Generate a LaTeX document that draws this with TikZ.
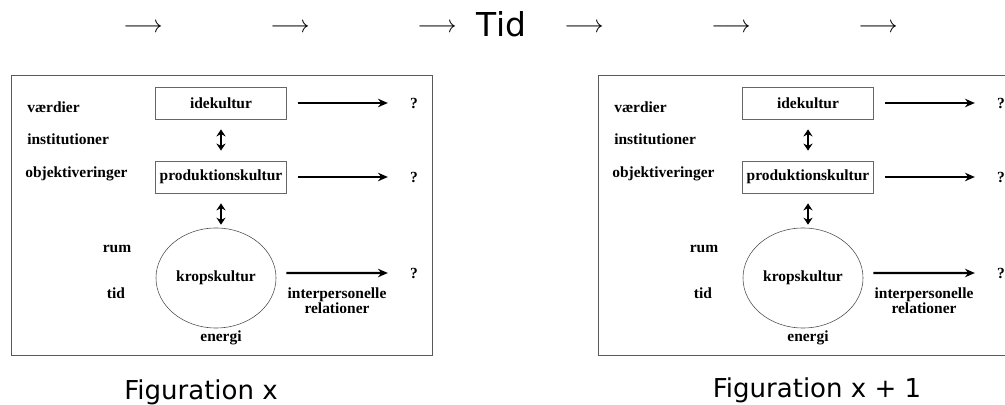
\documentclass[tikz,border=0pt]{standalone}
\usepackage{fontspec}
\setmainfont{Liberation Serif}
\newfontfamily\capfont{DejaVu Sans}
\usetikzlibrary{arrows.meta}
\usetikzlibrary{shapes.geometric}

\begin{document}
\begin{tikzpicture}[x=0.025cm, y=-0.025cm,
  lbl/.style={font=\fontsize{11}{10.5}\selectfont\bfseries, inner sep=0pt},
  kbox/.style={draw=black!60, line width=0.5pt, minimum width=3.275cm, minimum height=0.8cm, inner sep=0pt, lbl},
  pil/.style={line width=1.6pt, -{Stealth[length=7pt,width=6pt]}},
  dpil/.style={line width=1.6pt, {Stealth[length=5pt,width=6.5pt]}-{Stealth[length=5pt,width=6.5pt]}},
  figtekst/.style={font=\capfont\fontsize{18.5}{20}\selectfont}]
\clip (0,0) rectangle (1005,405);

\foreach \k in {0,...,5}
  \node[font=\fontsize{19}{20}\selectfont] (pil\k) at (143+147*\k,28) {$\longrightarrow$};
\node[font=\capfont\fontsize{23.4}{26}\selectfont, anchor=base] (tid) at (501.5,37) {Tid};

\foreach \dx/\f in {0/a,587/b}{
\begin{scope}[shift={(\dx,0)}]
  \node[draw=black!65, minimum width=10.525cm, minimum height=7cm] (ramme\f) at (221.5,215) {};
  \node[kbox] (ide\f) at (221,103) {idekultur};
  \node[kbox] (prod\f) at (221,177) {produktionskultur};
  \node[draw=black!70, ellipse, minimum width=3cm, minimum height=2.5cm, lbl] (krop\f) at (216,278) {kropskultur};

  \node[lbl, anchor=west] (vaerdi\f) at (27,107) {værdier};
  \node[lbl, anchor=west] (inst\f) at (27,139) {institutioner};
  \node[lbl, anchor=west] (objekt\f) at (25,174) {objektiveringer};
  \node[lbl] (rum\f) at (117,249) {rum};
  \node[lbl] (tid\f) at (116,293) {tid};
  \node[lbl] (energi\f) at (221,338) {energi};
  \node[lbl, align=center] (inter\f) at (337,301) {interpersonelle\\relationer};

  \node[lbl] (qa\f) at (414,103) {?};
  \node[lbl] (qb\f) at (414,177) {?};
  \node[lbl] (qc\f) at (414,273) {?};

  \draw[dpil] ([yshift=-0.25cm]ide\f.south) -- ([yshift=0.25cm]ide\f.south |- prod\f.north);
  \draw[dpil] ([yshift=-0.25cm]prod\f.south) -- ([yshift=0.075cm]prod\f.south |- krop\f.north);
  \draw[pil] ([xshift=0.275cm]ide\f.east) -- ([xshift=-0.55cm]qa\f.west);
  \draw[pil] ([xshift=0.275cm]prod\f.east) -- ([xshift=-0.55cm]qb\f.west);
  \draw[pil] ([xshift=0.25cm,yshift=0.125cm]krop\f.east) -- ([xshift=-0.55cm]qc\f.west);
\end{scope}
}

\node[figtekst] (figa) at (201,392) {Figuration x};
\node[figtekst] (figb) at (817,390) {Figuration x + 1};
\end{tikzpicture}
\end{document}
